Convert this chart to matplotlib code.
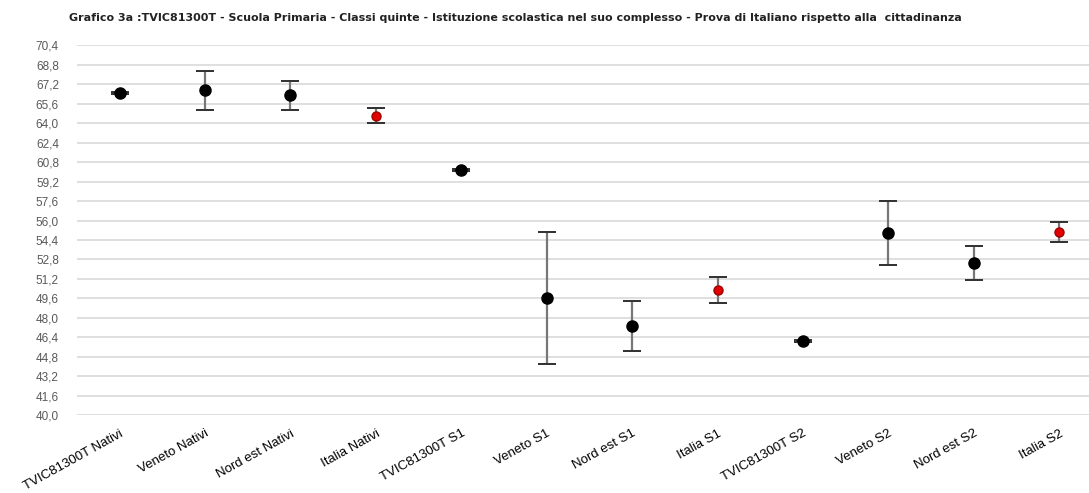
import numpy as np
import matplotlib.pyplot as plt

# Categories and values
categories = ["TVIC81300T Nativi", "Veneto Nativi", "Nord est Nativi", "Italia Nativi",
              "TVIC81300T S1", "Veneto S1", "Nord est S1", "Italia S1",
              "TVIC81300T S2", "Veneto S2", "Nord est S2", "Italia S2"]
means = [66.47, 66.72, 66.33, 64.63, 60.15, 49.61, 47.33, 50.27, 46.12, 55.00, 52.49, 55.09]
lower = [66.40, 65.12, 65.10, 64.00, 60.08, 44.20, 45.25, 49.22, 46.05, 52.37, 51.09, 54.27]
upper = [66.54, 68.28, 67.48, 65.24, 60.22, 55.06, 49.41, 51.34, 46.19, 57.59, 53.89, 55.84]
is_italia = [c.startswith("Italia") for c in categories]

yticks = np.arange(40.0, 70.41, 1.6)

plt.rcParams['font.family'] = ['Liberation Sans', 'DejaVu Sans']

fig = plt.figure(figsize=(10.89, 4.93), dpi=100)
ax = fig.add_axes([0.0707, 0.158, 0.9293, 0.75])

x = np.arange(len(categories))
m = np.array(means)
err = np.array([m - np.array(lower), np.array(upper) - m])

ax.errorbar(x, m, yerr=err, fmt='none', ecolor='#777777', elinewidth=1.6,
            capsize=6.5, capthick=1.4, zorder=3)
# darker caps on top
ax.errorbar(x, m, yerr=err, fmt='none', ecolor='#333333', elinewidth=0,
            capsize=6.5, capthick=1.4, zorder=3)
for xi, yi, red in zip(x, means, is_italia):
    ax.plot(xi, yi, 'o', color='#e00000' if red else 'black',
            markeredgecolor='#a00000' if red else 'black',
            markersize=8 if not red else 6.5, zorder=4)

ax.set_ylim(40.0, 70.4)
ax.set_xlim(-0.5, 11.35)
ax.set_yticks(yticks)
ax.set_yticklabels([f"{v:.1f}".replace('.', ',') for v in yticks], color='#595959', fontsize=8.5)
ax.set_xticks(x)
ax.set_xticklabels(categories, rotation=29, ha='right', rotation_mode='anchor',
                   fontsize=9.5, color='black')
ax.tick_params(axis='y', length=0, pad=13)
ax.tick_params(axis='x', length=0, pad=9)
ax.grid(axis='y', color='#d9d9d9', linewidth=1.2)
ax.set_axisbelow(True)
for s in ax.spines.values():
    s.set_visible(False)

fig.text(0.063, 0.963, "Grafico 3a :TVIC81300T - Scuola Primaria - Classi quinte - Istituzione "
         "scolastica nel suo complesso - Prova di Italiano rispetto alla  cittadinanza",
         fontsize=8, fontweight='bold', color='#222222', va='center',
         family=['DejaVu Sans'])

fig.savefig("out.png", dpi=100)
